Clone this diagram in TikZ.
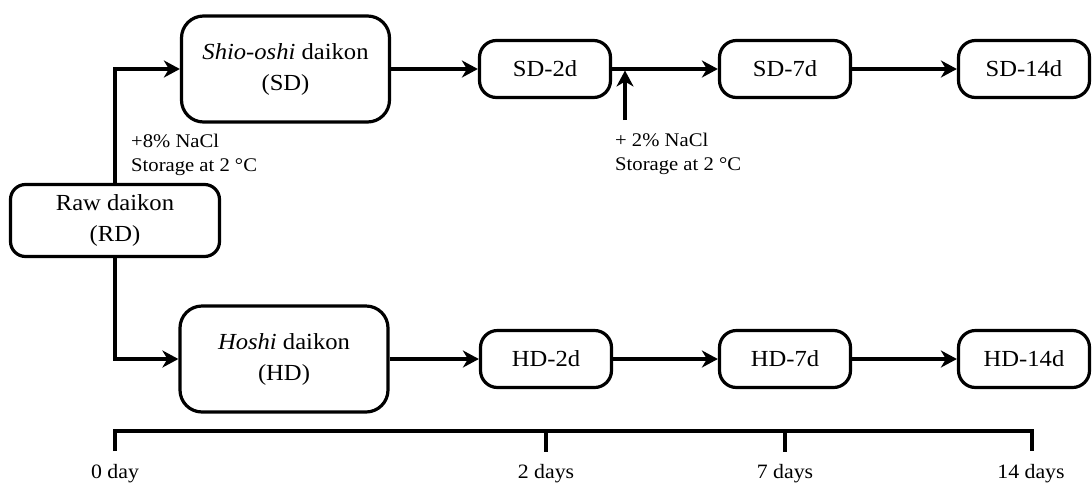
\documentclass[tikz,border=0pt]{standalone}
\usepackage{fontspec}
\setmainfont{Liberation Serif}[FakeStretch=1.07]
\usetikzlibrary{arrows.meta}

\newcommand\boxfont{\fontsize{23}{31}\selectfont}
\newcommand\notefont{\fontsize{19.3}{23.5}\selectfont}
\newcommand\axisfont{\fontsize{20.4}{23}\selectfont}

\begin{document}
\begin{tikzpicture}[x=1pt,y=-1pt,
  box/.style={draw, line width=3.2pt, rounded corners=17pt, align=center,
    inner sep=0pt, font=\boxfont},
  big/.style={box, minimum width=208pt, minimum height=106pt, rounded corners=22pt},
  stage/.style={box, minimum width=131pt, minimum height=57pt},
  flow/.style={line width=3.2pt, -{Stealth[length=16pt,width=17pt,inset=5pt]}},
  note/.style={align=left, font=\notefont, inner sep=0pt, anchor=north west},
  axis/.style={line width=3.2pt, line join=miter},
  axislabel/.style={font=\axisfont, inner sep=0pt, anchor=base},
]
\path[use as bounding box] (0,0) rectangle (1092,491);

% starting material
\node[box, minimum width=209pt, minimum height=72pt, rounded corners=15pt]
  (rd) at (115,220.5) {Raw daikon\\(RD)};

% the two processed products
\node[big] (sd) at (285.5,69) {\textit{Shio-oshi} daikon\\(SD)};
\node[big] (hd) at (284,359) {\textit{Hoshi} daikon\\(HD)};

% storage stages
\node[stage] (sd2)  at (545,69)   {SD-2d};
\node[stage] (sd7)  at (785,69)   {SD-7d};
\node[stage] (sd14) at (1024,69)  {SD-14d};
\node[stage] (hd2)  at (546,359)  {HD-2d};
\node[stage] (hd7)  at (785,359)  {HD-7d};
\node[stage] (hd14) at (1024,359) {HD-14d};

% branches from raw daikon
\draw[flow] (rd.north) |- (sd.west);
\draw[flow] (rd.south) |- (hd.west);

% sequences of stages
\draw[flow] (sd.east) -- (sd2.west);
\draw[flow] (sd2.east) -- (sd7.west);
\draw[flow] (sd7.east) -- (sd14.west);
\draw[flow] (hd.east) -- (hd2.west);
\draw[flow] (hd2.east) -- (hd7.west);
\draw[flow] (hd7.east) -- (hd14.west);

% extra salt added after two days
\coordinate (salt) at (625,120);
\draw[flow] (salt) -- ([yshift=-1.5pt]salt |- sd2.east);

% treatment notes
\node[note] (n1) at (131,134) {+8\% NaCl\\Storage at 2 °C};
\node[note] (n2) at (615,133) {+ 2\% NaCl\\Storage at 2 °C};

% time axis
\coordinate (t0)  at (115,431);
\coordinate (t2)  at (546,431);
\coordinate (t7)  at (785,431);
\coordinate (t14) at (1032,431);
\draw[axis] ([yshift=-20pt]t0) -- (t0) -- (t14) -- ([yshift=-20pt]t14);
\draw[axis] (t2) -- ([yshift=-21pt]t2);
\draw[axis] (t7) -- ([yshift=-21pt]t7);

\node[axislabel] (l0)  at (115,478)  {0 day};
\node[axislabel] (l2)  at (546,478)  {2 days};
\node[axislabel] (l7)  at (785,478)  {7 days};
\node[axislabel] (l14) at (1031,478) {14 days};
\end{tikzpicture}
\end{document}
